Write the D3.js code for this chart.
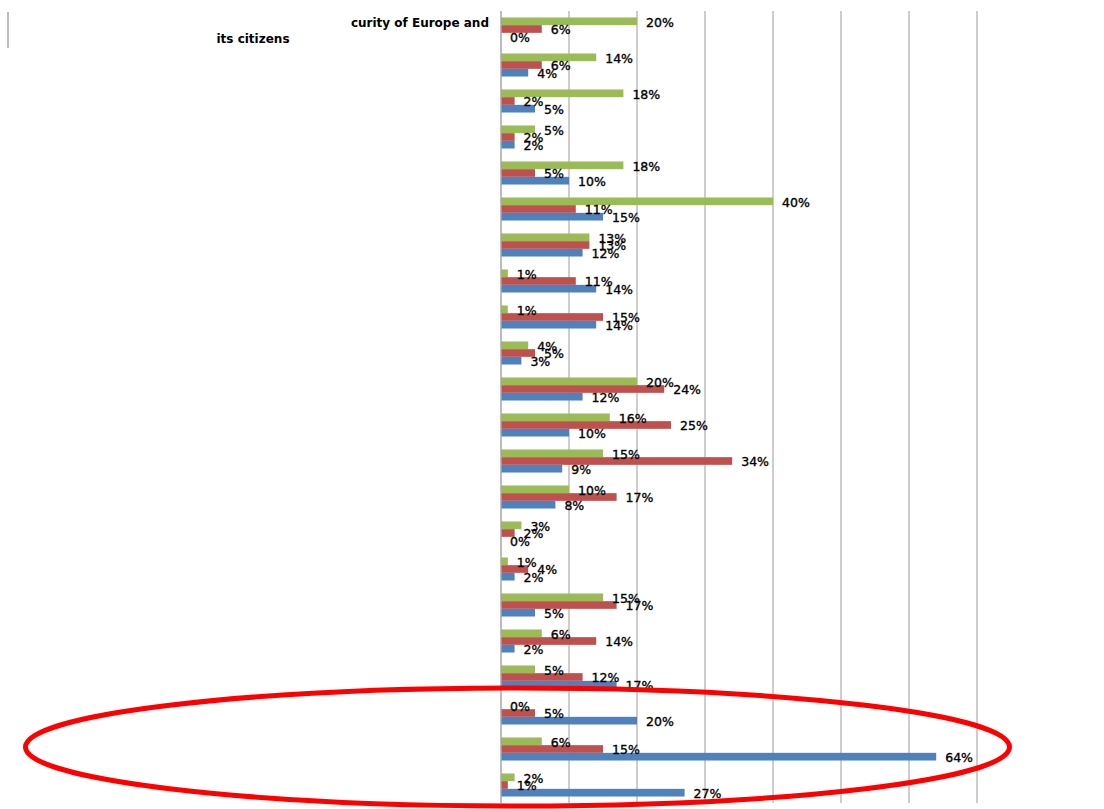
<!DOCTYPE html>
<html>
<head>
<meta charset="utf-8">
<script src="https://cdn.jsdelivr.net/npm/d3@7"></script>
<style>
  html, body { margin: 0; padding: 0; background: #fff; }
  svg { display: block; }
</style>
</head>
<body>
<svg id="chart" width="1104" height="809"></svg>
<script>
// Categories (one group of three bars each); only the first has a visible label
const categories = d3.range(1, 23).map(i => "Item " + i);
const firstLabelLines = ["curity of Europe and", "its citizens"];

// Series values, in percent (top bar = green, middle = red, bottom = blue)
const seriesGreen = [20, 14, 18, 5, 18, 40, 13, 1, 1, 4, 20, 16, 15, 10, 3, 1, 15, 6, 5, 0, 6, 2];
const seriesRed   = [6, 6, 2, 2, 5, 11, 13, 11, 15, 5, 24, 25, 34, 17, 2, 4, 17, 14, 12, 5, 15, 1];
const seriesBlue  = [0, 4, 5, 2, 10, 15, 12, 14, 14, 3, 12, 10, 9, 8, 0, 2, 5, 2, 17, 20, 64, 27];

const seriesKeys = ["green", "red", "blue"];
const seriesColors = { green: "#9BBB59", red: "#C0504D", blue: "#4F81BD" };
const seriesValues = { green: seriesGreen, red: seriesRed, blue: seriesBlue };

// Gridline values (percent)
const gridTicks = [10, 20, 30, 40, 50, 60, 70];

const svg = d3.select("#chart");

const x = d3.scaleLinear().domain([0, 70]).range([501, 977]);
const y = d3.scaleBand().domain(categories).range([11, 803])
  .paddingInner(0.36).paddingOuter(0.18);
const ySub = d3.scaleBand().domain(seriesKeys).range([0, y.bandwidth()]);

// Vertical gridlines
svg.append("g").selectAll("line").data(gridTicks).join("line")
  .attr("x1", d => x(d)).attr("x2", d => x(d))
  .attr("y1", 11).attr("y2", 803)
  .attr("stroke", "#bcbcbc").attr("stroke-width", 1.5);

// Bars
const rows = categories.map((c, i) => ({ cat: c, i }));
const groups = svg.append("g").selectAll("g").data(rows).join("g")
  .attr("transform", d => `translate(0,${y(d.cat)})`);

groups.selectAll("rect")
  .data(d => seriesKeys.map(k => ({ key: k, value: seriesValues[k][d.i] })))
  .join("rect")
  .attr("x", x(0))
  .attr("y", d => ySub(d.key))
  .attr("width", d => x(d.value) - x(0))
  .attr("height", ySub.bandwidth())
  .attr("fill", d => seriesColors[d.key]);

// Value labels
groups.selectAll("text")
  .data(d => seriesKeys.map(k => ({ key: k, value: seriesValues[k][d.i] })))
  .join("text")
  .attr("x", d => x(d.value) + 9)
  .attr("y", d => ySub(d.key) + ySub.bandwidth() / 2 + 1)
  .attr("dy", "0.35em")
  .attr("font-family", "DejaVu Sans, sans-serif")
  .attr("font-size", 12.5)
  .attr("fill", "#000")
  .attr("stroke", "#000")
  .attr("stroke-width", 0.35)
  .text(d => d.value + "%");

// Vertical axis line
svg.append("line")
  .attr("x1", x(0)).attr("x2", x(0))
  .attr("y1", 11).attr("y2", 803)
  .attr("stroke", "#a6a6a6").attr("stroke-width", 1.5);

// First category label (wrapped on two lines)
svg.append("text")
  .attr("x", 489).attr("y", 27)
  .attr("text-anchor", "end")
  .attr("font-family", "DejaVu Sans, sans-serif")
  .attr("font-size", 12).attr("font-weight", "bold")
  .text(firstLabelLines[0]);
svg.append("text")
  .attr("x", 253).attr("y", 43)
  .attr("text-anchor", "middle")
  .attr("font-family", "DejaVu Sans, sans-serif")
  .attr("font-size", 12).attr("font-weight", "bold")
  .text(firstLabelLines[1]);

// Left frame stub
svg.append("line")
  .attr("x1", 8).attr("x2", 8).attr("y1", 12).attr("y2", 48)
  .attr("stroke", "#a6a6a6").attr("stroke-width", 1.5);

// Highlight ellipse around the last three groups
svg.append("ellipse")
  .attr("cx", 517.5).attr("cy", 747)
  .attr("rx", 492).attr("ry", 59)
  .attr("fill", "none")
  .attr("stroke", "#ff0000").attr("stroke-width", 5);
</script>
</body>
</html>
